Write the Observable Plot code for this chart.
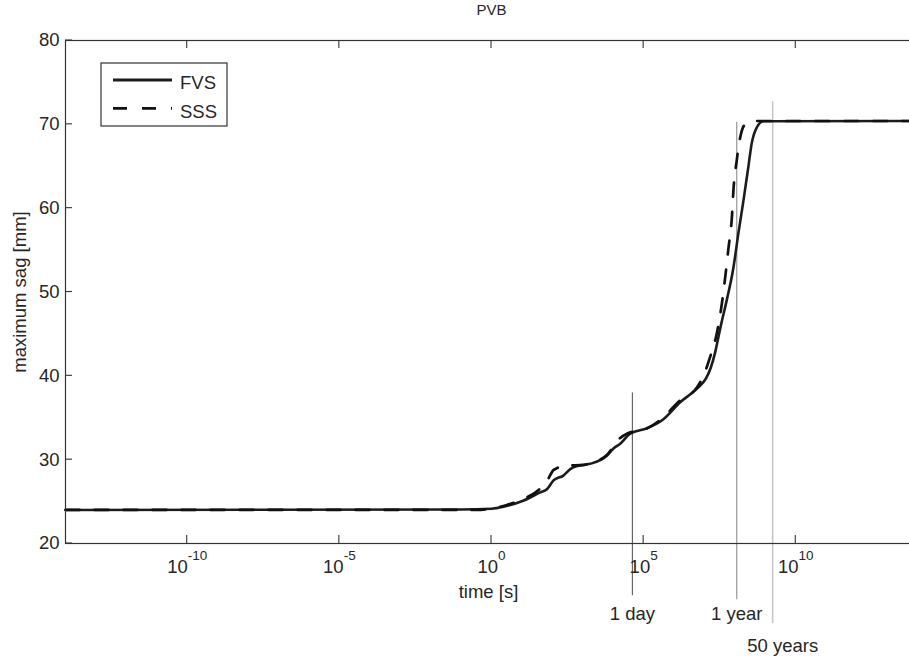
<!DOCTYPE html>
<html><head><meta charset="utf-8">
<script src="https://cdn.jsdelivr.net/npm/d3@7"></script>
<script src="https://cdn.jsdelivr.net/npm/@observablehq/plot@0.6"></script>
<style>
html,body{margin:0;padding:0;background:#fff;overflow:hidden}
</style></head><body><div id="chart"></div>
<script>
// ---- data ----
const title = "PVB";
const xLabel = "time [s]";
const yLabel = "maximum sag [mm]";
const seriesNames = ["FVS", "SSS"];
const xDomainExp = [-14, 14];           // log10 of time [s]
const yDomain = [20, 80];
const xTickExp = [-10, -5, 0, 5, 10];
const yTicks = [20, 30, 40, 50, 60, 70, 80];

// FVS (solid): log10(time) and maximum sag
const fvsExp = [-14, -1, 0, 0.52, 1.04, 1.6, 1.83, 2.03, 2.36, 2.6, 2.82, 3.24, 3.8, 4.0, 4.23, 4.56, 5.11, 5.64, 6.2, 6.76, 7.05, 7.2, 7.35, 7.45, 7.55, 7.73, 7.95, 8.11, 8.28, 8.44, 8.55, 8.72, 8.94, 14];
const fvsSag = [24.0, 24.05, 24.15, 24.5, 25.1, 26.1, 26.5, 27.5, 28.1, 28.9, 29.25, 29.5, 30.5, 31.3, 31.9, 33.1, 33.75, 34.8, 36.85, 38.5, 39.7, 40.9, 42.8, 44.5, 46.2, 49.0, 52.9, 56.9, 60.9, 64.9, 67.7, 69.65, 70.37, 70.4];

// SSS (dashed)
const sssExp = [-14, -0.5, 0.5, 1.1, 1.45, 1.83, 2.05, 2.5, 2.95, 3.3, 3.8, 4.2, 4.45, 5.1, 5.6, 6.2, 6.75, 7.0, 7.18, 7.4, 7.57, 7.68, 7.79, 7.9, 7.95, 8.06, 8.15, 8.25, 8.4, 8.59, 14];
const sssSag = [24.0, 24.0, 24.6, 25.4, 26.1, 27.5, 28.8, 29.3, 29.35, 29.6, 30.6, 32.5, 33.1, 33.7, 34.9, 37.1, 38.6, 40.3, 42.2, 45.0, 48.6, 51.75, 55.3, 58.9, 62.1, 65.7, 68.0, 69.5, 70.2, 70.4, 70.4];

// reference time markers
const markerNames = ["1 day", "1 year", "50 years"];
const markerExp = [4.63, 8.06, 9.24];
const markerTop = [37.95, 70.25, 72.7];
const markerBottom = [13.76, 13.28, 10.45];
const markerLabelY = [11.55, 11.55, 7.73];
const markerColors = ["#5a5a5a", "#8e8e8e", "#c4c4c4"];

// ---- build ----
const toT = e => Math.pow(10, e);
const fvsRows = fvsExp.map((e, i) => ({t: toT(e), sag: fvsSag[i]}));
const sssRows = sssExp.map((e, i) => ({t: toT(e), sag: sssSag[i]}));
const markers = markerNames.map((n, i) => ({name: n, t: toT(markerExp[i]), top: markerTop[i], bottom: markerBottom[i], ly: markerLabelY[i], c: markerColors[i]}));

const FONT = "'Liberation Sans', Arial, Helvetica, sans-serif";
const FS = 18.5;
const TXT = "#262626";
const LINE = "#1c1c1c";

const chart = Plot.plot({
  width: 909, height: 660,
  marginLeft: 65, marginRight: -8, marginTop: 40, marginBottom: 117,
  style: {fontFamily: FONT, fontSize: FS + "px", color: TXT, background: "#fff", overflow: "visible"},
  x: {type: "log", domain: xDomainExp.map(toT)},
  y: {domain: yDomain},
  marks: [
    ...markers.map(m => Plot.ruleX([m], {x: "t", y1: "top", y2: "bottom", stroke: m.c, strokeWidth: m.name === "50 years" ? 1.5 : 1.1, clip: false})),
    Plot.line(fvsRows, {x: "t", y: "sag", stroke: LINE, strokeWidth: 2.6, curve: "monotone-x"}),
    Plot.line(sssRows, {x: "t", y: "sag", stroke: "#111", strokeWidth: 2.7, strokeDasharray: "14,15", curve: "monotone-x"}),
    Plot.frame({stroke: "#333", strokeWidth: 1.2}),
    Plot.axisX(xTickExp.map(toT), {tickSize: 0, tickPadding: 16, fontSize: FS, label: null,
      tickFormat: d => "10^" + String(Math.round(Math.log10(d))), fill: TXT}),
    Plot.axisY(yTicks, {tickSize: 0, tickPadding: 6, fontSize: FS, label: null, tickFormat: d => String(d), fill: TXT}),
    Plot.text([title], {frameAnchor: "top", lineAnchor: "middle", dy: -30, fontSize: 15, fill: TXT, text: d => d}),
    Plot.text([xLabel], {frameAnchor: "bottom", lineAnchor: "middle", dy: 49, dx: -3, fontSize: FS, fill: TXT, text: d => d}),
    Plot.text([yLabel], {frameAnchor: "left", textAnchor: "middle", lineAnchor: "middle", dx: -45, rotate: -90, fontSize: FS, fill: TXT, text: d => d}),
    Plot.text(markers, {x: "t", y: "ly", text: "name", fontSize: FS, fill: TXT, clip: false})
  ]
});

document.getElementById("chart").appendChild(chart);

// shift "50 years" label to the right like the reference
const svg = d3.select(chart);
svg.selectAll("text").each(function() {
  if (this.textContent === "50 years") {
    const x = +this.getAttribute("x") || 0;
    d3.select(this).attr("x", x + 10);
  }
});

// superscript exponents on x tick labels
svg.selectAll('g[aria-label="x-axis tick label"] text').each(function() {
  const s = this.textContent;
  const parts = s.split("^");
  if (parts.length === 2) {
    const t = d3.select(this);
    t.text(parts[0]);
    t.append("tspan").attr("dy", -12.5).attr("font-size", 13.5).text(parts[1]);
  }
});

// inward ticks on all four sides (using the plot's scales)
const sx = chart.scale("x"), sy = chart.scale("y");
const x0 = sx.apply(toT(xDomainExp[0])), x1 = sx.apply(toT(xDomainExp[1]));
const y0 = sy.apply(yDomain[0]), y1 = sy.apply(yDomain[1]);
const g = svg.append("g").attr("stroke", "#333").attr("stroke-width", 1.1);
xTickExp.forEach(e => {
  const x = sx.apply(toT(e));
  g.append("line").attr("x1", x).attr("x2", x).attr("y1", y0).attr("y2", y0 - 8);
  g.append("line").attr("x1", x).attr("x2", x).attr("y1", y1).attr("y2", y1 + 8);
});
yTicks.forEach(v => {
  const y = sy.apply(v);
  g.append("line").attr("x1", x0).attr("x2", x0 + 7).attr("y1", y).attr("y2", y);
  g.append("line").attr("x1", x1).attr("x2", x1 - 8).attr("y1", y).attr("y2", y);
});

// legend box
const lg = svg.append("g").attr("font-family", FONT).attr("font-size", FS).attr("text-anchor", "start");
lg.append("rect").attr("x", 101).attr("y", 63).attr("width", 126).attr("height", 63)
  .attr("fill", "#fff").attr("stroke", "#333").attr("stroke-width", 1.2);
const legendStyles = [{dash: null}, {dash: "14,15"}];
seriesNames.forEach((name, i) => {
  const ly = 80 + i * 28.3;
  const l = lg.append("line").attr("x1", 113).attr("x2", 172).attr("y1", ly).attr("y2", ly)
    .attr("stroke", i === 0 ? LINE : "#111").attr("stroke-width", 2.8);
  if (legendStyles[i].dash) l.attr("stroke-dasharray", legendStyles[i].dash);
  lg.append("text").attr("x", 180).attr("y", ly + 9.3).attr("text-anchor", "start").attr("fill", TXT).text(name);
});
</script>
</body></html>
